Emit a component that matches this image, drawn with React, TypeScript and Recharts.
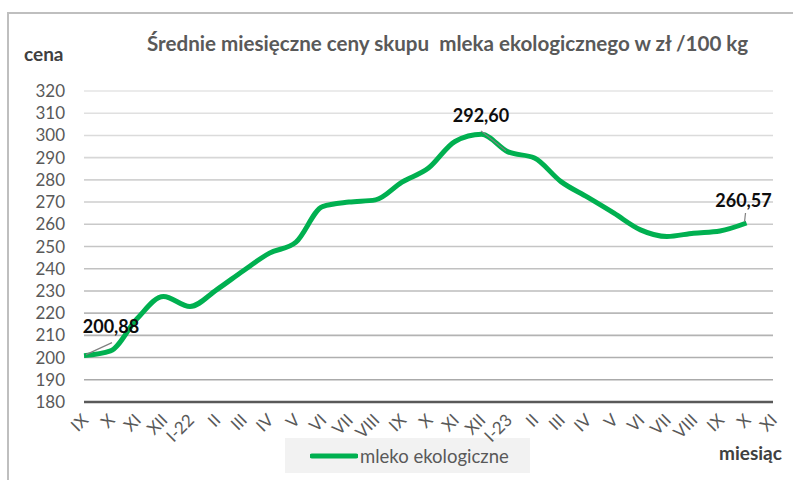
import { LineChart, Line, XAxis, YAxis, CartesianGrid, Legend, LabelList } from 'recharts'

const MONTHS = [
  'IX', 'X', 'XI', 'XII', 'I-22', 'II', 'III', 'IV', 'V', 'VI', 'VII', 'VIII',
  'IX', 'X', 'XI', 'XII', 'I-23', 'II', 'III', 'IV', 'V', 'VI', 'VII', 'VIII',
  'IX', 'X', 'XI',
]

// prices; last month has no data yet
const PRICES: (number | null)[] = [
  200.88, 203.0, 217.5, 227.5, 223.0, 230.5, 239.0, 247.0, 252.0, 268.0, 270.0, 271.0,
  279.0, 285.3, 297.3, 300.5, 292.6, 289.8, 279.2, 272.2, 265.0, 257.5, 254.5, 256.0,
  257.0, 260.57, null,
]

const Y_TICKS = [180, 190, 200, 210, 220, 230, 240, 250, 260, 270, 280, 290, 300, 310, 320]

// only these points carry a value label (index -> label offset)
const LABELLED: Record<number, { dx: number; dy: number; lx: number; ly: number }> = {
  0: { dx: 27, dy: -23, lx: 28, ly: -13 },
  16: { dx: -27, dy: -30, lx: -27, ly: -21 },
  25: { dx: -3, dy: -16, lx: -1, ly: -10 },
}

const data = MONTHS.map((m, i) => ({ key: `${m}-${i}`, month: m, price: PRICES[i] }))

const GRAY = '#595959'
const FONT = 'Lato, "Open Sans", sans-serif'

function gridLine(props: any) {
  // grid gets darker towards the bottom of the plot
  const t = Math.min(1, Math.max(0, (props.y1 - 91) / 311))
  const c = Math.round(228 - t * 62)
  return (
    <line key={props.key} x1={props.x1} y1={props.y1} x2={props.x2} y2={props.y2}
      stroke={`rgb(${c},${c},${c})`} strokeWidth={1.6} />
  )
}

function MonthTick({ x, y, payload }: any) {
  const label = String(payload.value).split('-').slice(0, -1).join('-')
  return (
    <g transform={`translate(${x + 1},${y + 5})`}>
      <text transform="rotate(-45)" textAnchor="end" dy="0.35em"
        fill={GRAY} fontSize={17} fontFamily={FONT}>
        {label}
      </text>
    </g>
  )
}

function PriceLabel({ x, y, value, index }: any) {
  const o = LABELLED[index]
  if (!o || value == null) return null
  return (
    <g>
      <line x1={x + Math.sign(o.lx) * 2} y1={y - 1} x2={x + o.lx} y2={y + o.ly} stroke="#808080" strokeWidth={1.2} />
      <text x={x + o.dx} y={y + o.dy} textAnchor="middle" fontSize={18} fontWeight={700}
        fontFamily={FONT} fill="#0d0d0d">
        {Number(value).toFixed(2).replace('.', ',')}
      </text>
    </g>
  )
}

function LegendBox() {
  return (
    <div style={{ display: 'flex', alignItems: 'center', height: 35, background: '#f2f2f2', paddingLeft: 25 }}>
      <svg width={48} height={10}>
        <line x1={2} y1={5} x2={46} y2={5} stroke="#00b050" strokeWidth={5} strokeLinecap="round" />
      </svg>
      <span style={{ fontFamily: FONT, fontSize: 18.5, color: GRAY, marginLeft: 2 }}>mleko ekologiczne</span>
    </div>
  )
}

export default function App() {
  return (
    <div style={{ position: 'absolute', left: 0, top: 0, width: 793, height: 480, background: '#fff', overflow: 'hidden', zIndex: 0 }}>
      <div style={{ position: 'absolute', left: 7, top: 12, width: 800, height: 480, borderLeft: '2px solid #bfbfbf', borderTop: '2px solid #bfbfbf' }} />
      <div style={{ position: 'absolute', left: 0, top: 0 }}>
        <LineChart width={793} height={480} data={data} margin={{ top: 91, right: 20, bottom: 13, left: 24 }}>
          <CartesianGrid vertical={false} horizontal={gridLine} />
          <XAxis dataKey="key" interval={0} tick={<MonthTick />} tickSize={0} tickMargin={10}
            axisLine={{ stroke: GRAY, strokeWidth: 2.5 }} tickLine={false} height={30} />
          <YAxis type="number" domain={[180, 320]} ticks={Y_TICKS} interval={0} width={60}
            tickSize={0} tickMargin={19} axisLine={false} tickLine={false}
            tick={{ fill: GRAY, fontSize: 17, fontFamily: FONT }} />
          <Legend content={<LegendBox />} height={35}
            wrapperStyle={{ position: 'absolute', left: 285, top: 438, width: 245, height: 35, zIndex: -1 }} />
          <Line type="monotone" dataKey="price" name="mleko ekologiczne" stroke="#00b050" strokeWidth={5}
            dot={false} activeDot={false} isAnimationActive={false} connectNulls={false}>
            <LabelList dataKey="price" content={<PriceLabel />} />
          </Line>
        </LineChart>
      </div>
      <svg width={793} height={480} style={{ position: 'absolute', left: 0, top: 0, pointerEvents: 'none' }}>
        <text x={147} y={51} fontFamily={FONT} fontWeight={700} fontSize={20.6} fill={GRAY} xmlSpace="preserve">
          Średnie miesięczne ceny skupu  mleka ekologicznego w zł /100 kg
        </text>
        <text x={24} y={61} fontFamily={FONT} fontWeight={700} fontSize={19} fill="#404040">cena</text>
        <text x={719} y={460} fontFamily={FONT} fontWeight={700} fontSize={19} fill="#404040">miesiąc</text>
      </svg>
    </div>
  )
}
